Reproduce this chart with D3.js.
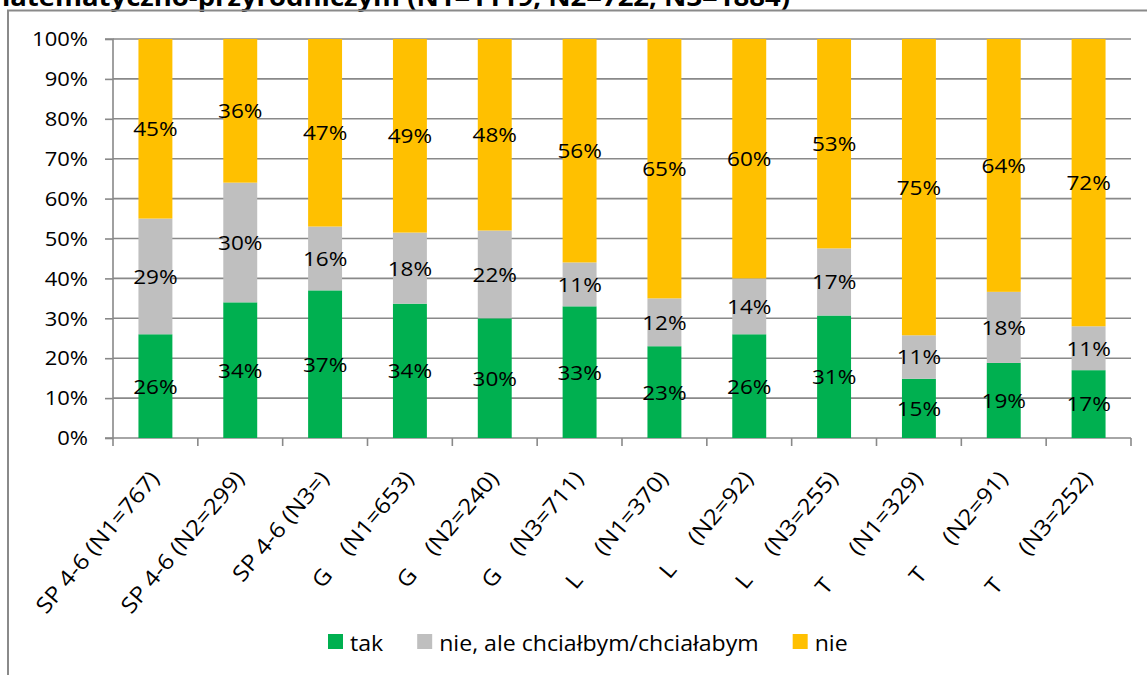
<!DOCTYPE html>
<html>
<head>
<meta charset="utf-8">
<script src="https://cdn.jsdelivr.net/npm/d3@7"></script>
<style>
  html, body { margin: 0; padding: 0; background: #fff; }
  svg { display: block; }
  text { font-family: "Open Sans", "Noto Sans", sans-serif; fill: #000; }
</style>
</head>
<body>
<svg id="chart" width="1147" height="675"></svg>
<script>
// Categories (school level and sample size per wave)
const categories = [
  "SP 4-6 (N1=767)", "SP 4-6 (N2=299)", "SP 4-6 (N3=)",
  "G    (N1=653)", "G    (N2=240)", "G    (N3=711)",
  "L     (N1=370)", "L     (N2=92)", "L     (N3=255)",
  "T      (N1=329)", "T      (N2=91)", "T      (N3=252)"
];

// Answer series, in percent
const seriesNames = ["tak", "nie, ale chciałbym/chciałabym", "nie"];
const takValues = [26, 34, 37, 34, 30, 33, 23, 26, 31, 15, 19, 17];
const nieAleValues = [29, 30, 16, 18, 22, 11, 12, 14, 17, 11, 18, 11];
const nieValues = [45, 36, 47, 49, 48, 56, 65, 60, 53, 75, 64, 72];
const seriesColors = ["#00B050", "#BFBFBF", "#FFC000"];

// Y axis ticks
const yTicks = [0, 0.1, 0.2, 0.3, 0.4, 0.5, 0.6, 0.7, 0.8, 0.9, 1.0];

const titleText = "matematyczno-przyrodniczym (N1=1119, N2=722, N3=1884)";

const svg = d3.select("#chart");
const W = 1147, H = 675;
const plot = { left: 113, right: 1131, top: 39, bottom: 438 };
const STRETCH = 1.1;
const gridColor = "#898989";

// Table for the stack layout
const rows = categories.map((c, i) => ({
  category: c,
  [seriesNames[0]]: takValues[i],
  [seriesNames[1]]: nieAleValues[i],
  [seriesNames[2]]: nieValues[i]
}));
const raw = [takValues, nieAleValues, nieValues];

const stacked = d3.stack().keys(seriesNames).offset(d3.stackOffsetExpand)(rows);

const x = d3.scaleBand()
  .domain(categories)
  .range([plot.left, plot.right])
  .paddingInner(0.6)
  .paddingOuter(0.3);

const y = d3.scaleLinear().domain([0, 1]).range([plot.bottom, plot.top]);

const color = d3.scaleOrdinal().domain(seriesNames).range(seriesColors);

// Title (runs above the top edge of the page)
svg.append("text")
  .attr("transform", `translate(790,6) scale(${STRETCH},1)`)
  .attr("text-anchor", "end")
  .style("font-weight", "bold")
  .style("font-size", "25px")
  .text(titleText);

// Chart frame
svg.append("path")
  .attr("d", `M8,${H + 2}V10.5H${W + 2}`)
  .attr("fill", "none")
  .attr("stroke", "#8a8a8a")
  .attr("stroke-width", 2);

// Horizontal gridlines
svg.append("g")
  .selectAll("line")
  .data(yTicks.filter(t => t > 0))
  .join("line")
  .attr("x1", plot.left)
  .attr("x2", plot.right)
  .attr("y1", d => y(d))
  .attr("y2", d => y(d))
  .attr("stroke", gridColor)
  .attr("stroke-width", 1.6);

// Y axis with outward ticks
const yAxis = svg.append("g")
  .attr("transform", `translate(${plot.left},0)`)
  .call(d3.axisLeft(y).tickValues(yTicks).tickSize(8).tickFormat(""));
yAxis.selectAll("line, path").attr("stroke", gridColor).attr("stroke-width", 1.6);
yAxis.select(".domain").attr("d", `M-8,${plot.bottom}H0V${plot.top}H-8`);

svg.append("g")
  .selectAll("text")
  .data(yTicks)
  .join("text")
  .attr("transform", d => `translate(88,${y(d)}) scale(${STRETCH},1)`)
  .attr("dy", "0.36em")
  .attr("text-anchor", "end")
  .style("font-size", "20px")
  .text(d => d3.format(".0%")(d));

// X axis with ticks between categories
const step = x.step();
const boundaries = categories.map(c => x(c) - (step - x.bandwidth()) / 2).concat([plot.right]);
svg.append("line")
  .attr("x1", plot.left).attr("x2", plot.right)
  .attr("y1", plot.bottom).attr("y2", plot.bottom)
  .attr("stroke", gridColor).attr("stroke-width", 1.6);
svg.append("g")
  .selectAll("line")
  .data(boundaries)
  .join("line")
  .attr("x1", d => d).attr("x2", d => d)
  .attr("y1", plot.bottom).attr("y2", plot.bottom + 8)
  .attr("stroke", gridColor).attr("stroke-width", 1.6);

// Bars
const layers = svg.append("g")
  .selectAll("g")
  .data(stacked)
  .join("g")
  .attr("fill", d => color(d.key));

layers.selectAll("rect")
  .data(d => d)
  .join("rect")
  .attr("x", d => x(d.data.category))
  .attr("width", x.bandwidth())
  .attr("y", d => y(d[1]))
  .attr("height", d => y(d[0]) - y(d[1]));

// Value labels centred in each segment
stacked.forEach((layer, si) => {
  svg.append("g")
    .selectAll("text")
    .data(layer)
    .join("text")
    .attr("transform", (d, i) =>
      `translate(${x(d.data.category) + x.bandwidth() / 2},${y((d[0] + d[1]) / 2)}) scale(${STRETCH},1)`)
    .attr("dy", "0.36em")
    .attr("text-anchor", "middle")
    .style("font-size", "20.5px")
    .text((d, i) => raw[si][i] + "%");
});

// Rotated category labels
svg.append("g")
  .selectAll("text")
  .data(categories)
  .join("text")
  .attr("transform", c =>
    `translate(${x(c) + x.bandwidth() / 2 + 5},479) rotate(-50) scale(${STRETCH},1)`)
  .attr("text-anchor", "end")
  .style("font-size", "22px")
  .style("white-space", "pre")
  .attr("xml:space", "preserve")
  .text(c => c);

// Legend
const legend = svg.append("g").attr("transform", "translate(328,634)");
const LEG_STRETCH = 1.1;
let lx = 0;
seriesNames.forEach((name, i) => {
  const item = legend.append("g").attr("transform", `translate(${lx},0)`);
  item.append("rect")
    .attr("width", 15).attr("height", 15)
    .attr("fill", seriesColors[i]);
  const t = item.append("text")
    .attr("transform", `translate(22,17) scale(${LEG_STRETCH},1)`)
    .style("font-size", "21px")
    .text(name);
  lx += 22 + t.node().getComputedTextLength() * LEG_STRETCH + 34;
});
</script>
</body>
</html>
